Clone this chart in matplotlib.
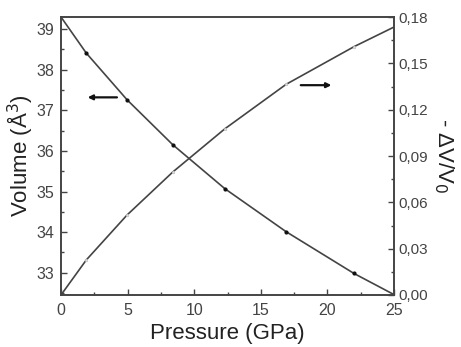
import matplotlib
matplotlib.use("Agg")
import matplotlib.pyplot as plt
from matplotlib.ticker import MultipleLocator, FuncFormatter

plt.rcParams['font.family'] = ['Liberation Sans', 'DejaVu Sans']

pressure = [0.0, 1.9, 4.96, 8.4, 12.3, 16.9, 22.0, 25.0]
volume = [39.3, 38.41, 37.26, 36.15, 35.07, 34.01, 32.98, 32.46]
dv_over_v0 = [0.0, 0.0227, 0.0518, 0.0797, 0.1076, 0.1364, 0.1608, 0.1735]

line_col = '#444444'
fig = plt.figure(figsize=(4.61, 3.47), dpi=100)
ax = fig.add_axes([61/461, 1 - 295/347, (394-61)/461, (295-17)/347])
ax2 = ax.twinx()

ax.plot(pressure, volume, color=line_col, lw=1.2, zorder=3)
ax.plot(pressure[1:-1], volume[1:-1], 'o', ms=2.0, color='#111111', zorder=4)
ax2.plot(pressure, dv_over_v0, color=line_col, lw=1.2, zorder=3)
ax2.plot(pressure[1:-1], dv_over_v0[1:-1], 'o', ms=2.0, color='#dddddd',
         markeredgecolor='#aaaaaa', mew=0.3, zorder=4)

ax.set_xlim(0, 25)
ax.set_ylim(32.45, 39.3)
ax2.set_ylim(0, 0.18)

ax.annotate('', xy=(2.0, 37.32), xytext=(4.2, 37.32),
            arrowprops=dict(arrowstyle='-|>', color='#111111', lw=1.6,
                            mutation_scale=7, shrinkA=0, shrinkB=0))
ax.annotate('', xy=(20.3, 37.62), xytext=(18.0, 37.62),
            arrowprops=dict(arrowstyle='-|>', color='#111111', lw=1.6,
                            mutation_scale=7, shrinkA=0, shrinkB=0))

ax.xaxis.set_major_locator(MultipleLocator(5))
ax.xaxis.set_minor_locator(MultipleLocator(2.5))
ax.yaxis.set_major_locator(MultipleLocator(1))
ax.yaxis.set_minor_locator(MultipleLocator(0.5))
ax2.yaxis.set_major_locator(MultipleLocator(0.03))
ax2.yaxis.set_minor_locator(MultipleLocator(0.015))
ax2.yaxis.set_major_formatter(FuncFormatter(lambda v, p: f"{v:.2f}".replace('.', ',')))

for a in (ax, ax2):
    for s in a.spines.values():
        s.set_color(line_col)
        s.set_linewidth(1.2)
ax.tick_params(which='both', direction='in', color=line_col, labelsize=11.5,
               labelcolor='#444444', top=False, right=False)
ax.tick_params(axis='x', which='major', pad=6)
ax.tick_params(axis='y', which='major', pad=5)
ax.tick_params(which='major', length=4, width=1)
ax.tick_params(which='minor', length=2.5, width=1)
ax2.tick_params(which='both', direction='in', color=line_col, labelsize=11,
                labelcolor='#444444')
ax2.tick_params(which='major', length=4, width=1, pad=3)
ax2.tick_params(which='minor', length=2.5, width=1)

ax.set_xlabel('Pressure (GPa)', fontsize=16, color='#222222', labelpad=3)
ax.set_ylabel('Volume (Å$^3$)', fontsize=16, color='#222222', labelpad=1)
ax2.set_ylabel('- ΔV/V$_0$', fontsize=16, color='#222222', rotation=270, labelpad=20)

fig.savefig('out.png', dpi=100)
